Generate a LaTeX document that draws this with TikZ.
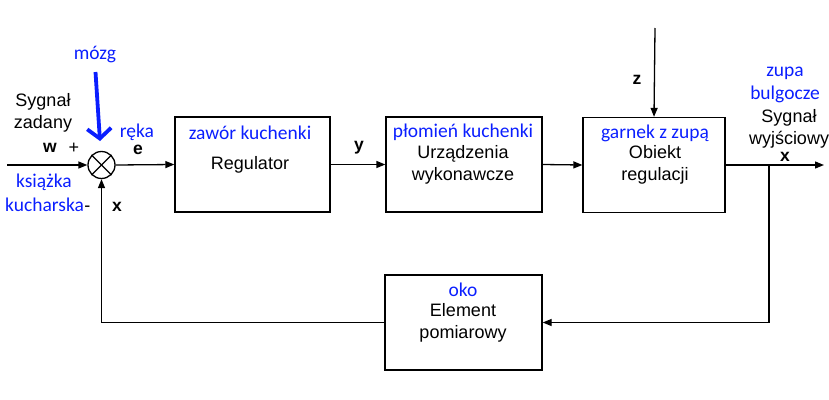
\documentclass[tikz,border=0pt]{standalone}
\usepackage{fontspec}
\setmainfont{Liberation Sans}
\newfontfamily\blufont{Carlito}
\usetikzlibrary{arrows.meta}
\definecolor{myblue}{RGB}{10,30,255}
\tikzset{
  blk/.style={draw=black, line width=1.3pt, minimum width=#1, minimum height=95pt, inner sep=0pt},
  blk/.default=155pt,
  lbl/.style={font=\fontsize{18}{21.5}\selectfont, align=center, inner sep=0pt},
  blu/.style={font=\blufont\fontsize{19.5}{23}\selectfont, text=myblue, align=center, inner sep=0pt},
  sig/.style={font=\bfseries\fontsize{17.5}{20}\selectfont, inner sep=0pt},
  arr/.style={line width=1.3pt, -{Triangle[length=9pt,width=7pt]}},
  ln/.style={line width=1.3pt},
}
\begin{document}
\begin{tikzpicture}[x=1pt,y=-1pt]
\useasboundingbox (0,0) rectangle (829,399);
% blocks
\node[blk=155pt] (reg) at (252.5,164.5) {};
\node[blk=156pt] (act) at (464,164.5) {};
\node[blk=142pt] (plant) at (654,165) {};
\node[blk=157pt] (meas) at (463.5,322.5) {};
% summing junction
\node[circle, draw=black, line width=1.3pt, minimum size=27pt, inner sep=0pt] (S) at (101.5,165) {};
\draw[ln] (S.north west) -- (S.south east);
\draw[ln] (S.north east) -- (S.south west);
% coordinates
\coordinate (in) at (7,165);
\coordinate (out) at (824,165);
\coordinate (br) at (769,165);
\coordinate (ztop) at (655,28);
\coordinate (mtop) at (95.5,72);
% connectors
\draw[arr] (in) -- (S.west);
\draw[arr] (S.east) -- (reg.west);
\draw[arr] (reg.east) -- (act.west);
\draw[arr] (act.east) -- (plant.west);
\draw[arr] (plant.east) -- (out);
\draw[arr] (br) |- (meas.east);
\draw[arr] (meas.west) -| (S.south);
\draw[arr] (ztop) -- (plant.north);
\draw[myblue, line width=3.8pt, -{Straight Barb[length=10pt,width=24pt]}] (mtop) -- (100,141);
% block texts
\node[blu] (t1) at (250,133) {zawór kuchenki};
\node[lbl] (t2) at (250,165) {Regulator};
\node[blu] (t3) at (463,132) {płomień kuchenki};
\node[lbl] (t4) at (463,165) {Urządzenia\\wykonawcze};
\node[blu] (t5) at (655,133) {garnek z zupą};
\node[lbl] (t6) at (655,165) {Obiekt\\regulacji};
\node[blu] (t7) at (463,290) {oko};
\node[lbl] (t8) at (463,323) {Element\\pomiarowy};
% signal labels
\node[blu] (mozg) at (95,55) {mózg};
\node[lbl] (sz) at (43,113) {Sygnał\\zadany};
\node[sig] (w) at (50,148) {w};
\node[lbl] (plus) at (74,148) {+};
\node[blu] (reka) at (137,132) {ręka};
\node[sig] (e) at (138,149.5) {e};
\node[blu, anchor=east] (ks) at (72,182) {książka};
\node[blu, anchor=west] (ku) at (5,205) {kucharska};
\node[lbl, anchor=base west] (minus) at (ku.base east) {-};
\node[sig] (x1) at (117,207) {x};
\node[sig] (y) at (359,148) {y};
\node[sig] (z) at (637,80) {z};
\node[blu] (zupa) at (785,85) {zupa\\bulgocze};
\node[lbl] (sw) at (789,129) {Sygnał\\wyjściowy};
\node[sig] (x2) at (785,157) {x};
\end{tikzpicture}
\end{document}
